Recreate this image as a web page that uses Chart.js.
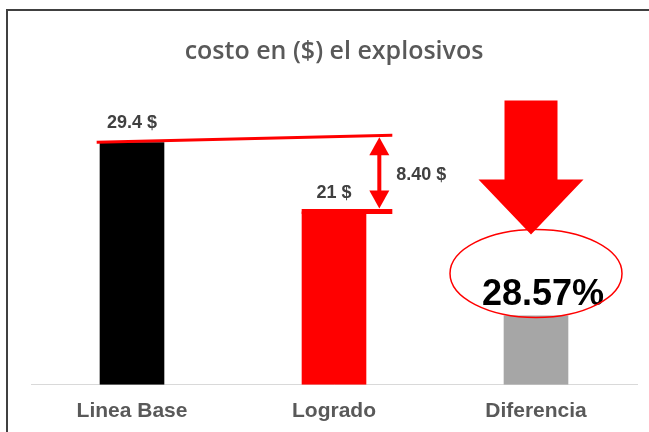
<!DOCTYPE html>
<html lang="es">
<head>
<meta charset="utf-8"/>
<title>costo en ($) el explosivos</title>
<script src="https://cdn.jsdelivr.net/npm/chart.js@4.4.3/dist/chart.umd.min.js"></script>
<style>
  * { box-sizing: border-box; }
  body { margin: 0; background: #fff; overflow: hidden; }
  .wrap { position: relative; width: 649px; height: 432px; }
  .frame { position: absolute; left: 6px; top: 9px; width: 700px; height: 500px; border: 2px solid #404040; }
  .chart { position: absolute; left: 0; top: 0; width: 649px; height: 432px; }
</style>
</head>
<body>
<div class="wrap">
  <div class="frame"></div>
  <div class="chart"><canvas id="c"></canvas></div>
</div>
<script>
// data
const categories = ['Linea Base', 'Logrado', 'Diferencia'];
const values = [29.4, 21, 8.4];
const barColors = ['#000000', '#ff0000', '#a6a6a6'];
const valueLabels = ['29.4 $', '21 $', null];
const diffLabel = '8.40 $';
const pctLabel = '28.57%';

const RED = '#ff0000';

// draws the red guide lines, arrows, ellipse and labels on top of the bars
const annotations = {
  id: 'annotations',
  afterDatasetsDraw(chart) {
    const ctx = chart.ctx;
    const ys = chart.scales.y;
    const bars = chart.getDatasetMeta(0).data;
    const base = bars[0], done = bars[1], diff = bars[2];
    const yBase = ys.getPixelForValue(values[0]);
    const yDone = ys.getPixelForValue(values[1]);
    const yDiff = ys.getPixelForValue(values[2]);
    const hw = base.width / 2;

    ctx.save();
    // value labels above the first two bars
    ctx.fillStyle = '#404040';
    ctx.font = 'bold 18px "Liberation Sans", Arial, sans-serif';
    ctx.textAlign = 'center';
    ctx.textBaseline = 'alphabetic';
    bars.forEach((b, i) => {
      if (!valueLabels[i]) return;
      ctx.fillText(valueLabels[i], b.x, ys.getPixelForValue(values[i]) - 14);
    });

    // slanted red line from the base bar top
    const xEnd = done.x + hw + 26;
    ctx.strokeStyle = RED;
    ctx.lineWidth = 3;
    ctx.beginPath();
    ctx.moveTo(base.x - hw - 3, yBase);
    ctx.lineTo(xEnd, yBase - 7);
    ctx.stroke();

    // thick red line over the achieved bar
    ctx.lineWidth = 5;
    ctx.beginPath();
    ctx.moveTo(done.x - hw, yDone);
    ctx.lineTo(xEnd, yDone);
    ctx.stroke();

    // double arrow between the two levels
    const ax = xEnd - 13;
    const a1 = yBase - 5, a2 = yDone - 3;
    const head = 18, hwid = 10;
    ctx.fillStyle = RED;
    ctx.fillRect(ax - 2, a1 + head - 2, 4, a2 - a1 - 2 * head + 4);
    ctx.beginPath();
    ctx.moveTo(ax, a1); ctx.lineTo(ax + hwid, a1 + head); ctx.lineTo(ax - hwid, a1 + head); ctx.closePath();
    ctx.fill();
    ctx.beginPath();
    ctx.moveTo(ax, a2); ctx.lineTo(ax + hwid, a2 - head); ctx.lineTo(ax - hwid, a2 - head); ctx.closePath();
    ctx.fill();

    ctx.fillStyle = '#404040';
    ctx.textAlign = 'left';
    ctx.textBaseline = 'middle';
    ctx.fillText(diffLabel, ax + 17, (a1 + a2) / 2 + 2);

    // big down arrow above the difference bar
    const cx = diff.x - 5;
    const top = yDiff - 215, neck = yDiff - 136, tip = yDiff - 81;
    ctx.fillStyle = RED;
    ctx.beginPath();
    ctx.moveTo(cx - 26.5, top);
    ctx.lineTo(cx + 26.5, top);
    ctx.lineTo(cx + 26.5, neck);
    ctx.lineTo(cx + 52.5, neck);
    ctx.lineTo(cx, tip);
    ctx.lineTo(cx - 52.5, neck);
    ctx.lineTo(cx - 26.5, neck);
    ctx.closePath();
    ctx.fill();

    // percentage + ellipse
    ctx.fillStyle = '#000000';
    ctx.font = 'bold 36px "Liberation Sans", Arial, sans-serif';
    ctx.textAlign = 'center';
    ctx.textBaseline = 'alphabetic';
    ctx.fillText(pctLabel, diff.x + 7, yDiff - 10);

    ctx.strokeStyle = RED;
    ctx.lineWidth = 1.5;
    ctx.beginPath();
    ctx.ellipse(diff.x, yDiff - 42, 86, 44, 0, 0, Math.PI * 2);
    ctx.stroke();
    ctx.restore();
  }
};

new Chart(document.getElementById('c'), {
  type: 'bar',
  data: {
    labels: categories,
    datasets: [{ data: values, backgroundColor: barColors, barPercentage: 1, categoryPercentage: 0.32 }]
  },
  options: {
    responsive: true, maintainAspectRatio: false, animation: false,
    layout: { padding: { left: 31, right: 12, top: 0, bottom: -6 } },
    plugins: {
      legend: { display: false },
      tooltip: { enabled: false },
      title: {
        display: true,
        text: 'costo en ($) el explosivos',
        color: '#595959',
        font: { family: '"Open Sans", sans-serif', size: 25, weight: '600' },
        padding: { top: 37, bottom: 29 }
      }
    },
    scales: {
      x: {
        grid: { display: false, drawTicks: false },
        border: { display: true, color: '#d9d9d9', width: 1 },
        ticks: { color: '#595959', padding: 14, font: { family: '"Liberation Sans", Arial, sans-serif', size: 21, weight: 'bold' } }
      },
      y: { display: false, min: 0, max: 35 }
    }
  },
  plugins: [annotations]
});
</script>
</body>
</html>
